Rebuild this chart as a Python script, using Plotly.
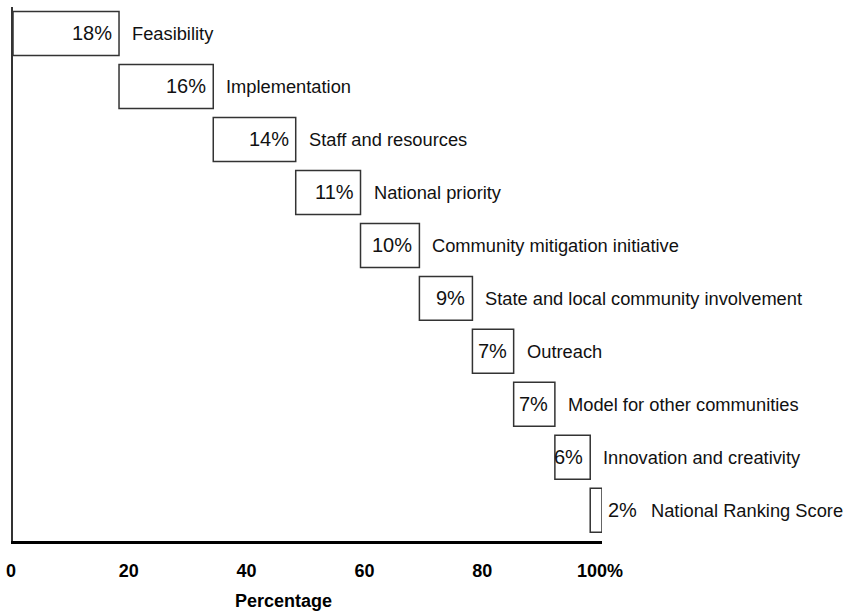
import plotly.graph_objects as go

categories = ["Feasibility", "Implementation", "Staff and resources", "National priority",
              "Community mitigation initiative", "State and local community involvement",
              "Outreach", "Model for other communities", "Innovation and creativity",
              "National Ranking Score"]
values = [18, 16, 14, 11, 10, 9, 7, 7, 6, 2]
tick_vals = [0, 20, 40, 60, 80, 100]
tick_text = ["0", "20", "40", "60", "80", "100%"]
x_title = "Percentage"

bases = []
acc = 0
for v in values:
    bases.append(acc)
    acc += v
ends = [b + v for b, v in zip(bases, values)]
ypos = list(range(len(values)))

FONT = "Liberation Sans, Arial, sans-serif"

fig = go.Figure()
fig.add_trace(go.Bar(
    y=ypos, x=values, base=bases, orientation="h",
    marker=dict(color="white", line=dict(color="#333333", width=1.5)),
    hoverinfo="skip", showlegend=False,
))

annotations = []
for i, (name, v, e) in enumerate(zip(categories, values, ends)):
    inside = v >= 5
    annotations.append(dict(
        x=e, y=i, xref="x", yref="y", text=f"{v}%", showarrow=False,
        xanchor="right" if inside else "left", xshift=-5 if inside else 4,
        font=dict(family=FONT, size=20, color="#111111"),
    ))
    annotations.append(dict(
        x=e, y=i, xref="x", yref="y", text=name, showarrow=False,
        xanchor="left", xshift=11 if inside else 47,
        font=dict(family=FONT, size=18.3, color="#111111"),
    ))
annotations.append(dict(
    x=0.46, y=-0.1124, xref="paper", yref="paper", text=f"<b>{x_title}</b>",
    showarrow=False, xanchor="center", yanchor="middle",
    font=dict(family=FONT, size=18, color="black"),
))

fig.update_layout(
    width=846, height=615,
    margin=dict(l=13, r=244, t=7, b=74, autoexpand=False),
    paper_bgcolor="white", plot_bgcolor="white",
    bargap=0.17,
    annotations=annotations,
    xaxis=dict(
        range=[0, 100], tickmode="array", tickvals=tick_vals, ticktext=tick_text,
        showgrid=False, zeroline=False, showline=True, linecolor="black", linewidth=2.5,
        ticks="", ticklabelstandoff=12, ticklabelshift=-2, automargin=False,
        tickfont=dict(family=FONT, size=18, color="black", weight="bold"),
    ),
    yaxis=dict(
        range=[9.58, -0.5], showgrid=False, zeroline=False, showline=True, automargin=False,
        linecolor="#333333", linewidth=1.5, showticklabels=False, ticks="",
    ),
)

fig.write_html("out.html", config={"displayModeBar": False},
               post_script="document.body.style.margin='0px';document.body.style.overflow='hidden';")
